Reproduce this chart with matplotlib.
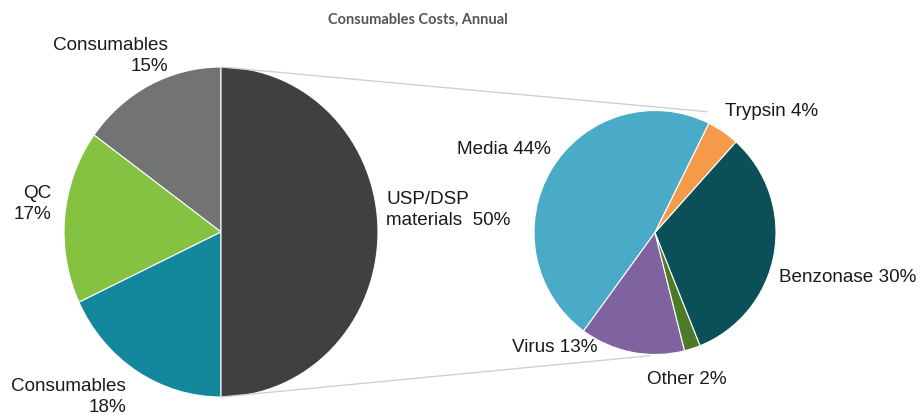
import matplotlib
matplotlib.use("Agg")
import matplotlib.pyplot as plt
from matplotlib.patches import ConnectionPatch

W, H = 921, 416

# Overall consumables split
main_labels = ["Consumables", "QC", "Consumables", "USP/DSP materials"]
main_values = [15, 17, 18, 50]
main_colors = ["#727474", "#86c241", "#13879b", "#404040"]

# Breakdown of USP/DSP materials
sub_labels = ["Media", "Virus", "Other", "Benzonase", "Trypsin"]
sub_values = [44, 13, 2, 30, 4]
sub_colors = ["#4aabc8", "#7f62a0", "#4e7a27", "#0b5059", "#f59a4b"]

plt.rcParams["font.family"] = ["Liberation Sans", "DejaVu Sans"]

fig = plt.figure(figsize=(W / 100, H / 100), dpi=100)


def pie_axes(cx, cy, rx, ry):
    return fig.add_axes([(cx - rx) / W, (H - cy - ry) / H, 2 * rx / W, 2 * ry / H])


def finish(ax):
    ax.set_xlim(-1, 1)
    ax.set_ylim(-1, 1)
    ax.set_aspect("auto")
    ax.axis("off")


ax1 = pie_axes(221, 232, 157, 165)
ax1.pie(main_values, colors=main_colors, startangle=90, counterclock=True,
        radius=1, wedgeprops=dict(edgecolor="white", linewidth=0.8))
finish(ax1)

ax2 = pie_axes(655, 232.5, 121, 122)
ax2.pie(sub_values, colors=sub_colors, startangle=63.5, counterclock=True,
        radius=1, wedgeprops=dict(edgecolor="white", linewidth=0.8))
finish(ax2)

# Connector lines between the USP/DSP slice and its breakdown
for (xa, ya), (xb, yb) in [((0, 1), (0.43, 0.99)), ((0, -1), (-0.04, -1.01))]:
    con = ConnectionPatch(xyA=(xa, ya), coordsA=ax1.transData,
                          xyB=(xb, yb), coordsB=ax2.transData,
                          color="#d0d0d0", linewidth=1.0)
    fig.add_artist(con)


def ptext(x, y, s, ha="left", va="center", **kw):
    fig.text(x / W, 1 - y / H, s, ha=ha, va=va, **kw)


fs = 13.6
tc = "#1a1a1a"
ls = 1.32
ptext(418, 20, "Consumables Costs, Annual", ha="center", fontsize=10.5,
      fontweight="bold", color="#555555", family=["Lato", "DejaVu Sans"])

ptext(168, 56, f"{main_labels[0]}\n{main_values[0]}%", ha="right",
      fontsize=fs, color=tc, multialignment="right", linespacing=ls)
ptext(51, 204, f"{main_labels[1]}\n{main_values[1]}%", ha="right",
      fontsize=fs, color=tc, multialignment="right", linespacing=ls)
ptext(126, 397, f"{main_labels[2]}\n{main_values[2]}%", ha="right",
      fontsize=fs, color=tc, multialignment="right", linespacing=ls)
ptext(386, 210, f"USP/DSP\nmaterials  {main_values[3]}%", ha="left",
      fontsize=fs, color=tc, multialignment="left", linespacing=ls)

ptext(551, 150, f"{sub_labels[0]} {sub_values[0]}%", ha="right", fontsize=fs, color=tc)
ptext(512, 348, f"{sub_labels[1]} {sub_values[1]}%", ha="left", fontsize=fs, color=tc)
ptext(647, 379, f"{sub_labels[2]} {sub_values[2]}%", ha="left", fontsize=fs, color=tc)
ptext(779, 278, f"{sub_labels[3]} {sub_values[3]}%", ha="left", fontsize=fs, color=tc)
ptext(725, 112, f"{sub_labels[4]} {sub_values[4]}%", ha="left", fontsize=fs, color=tc)

fig.savefig("out.png", dpi=100, facecolor="white")
